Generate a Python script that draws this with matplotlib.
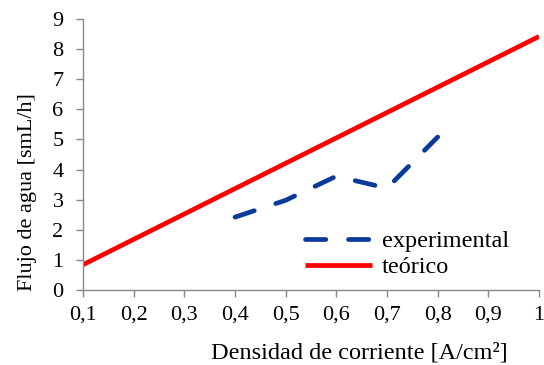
import matplotlib
matplotlib.use("Agg")
import matplotlib.pyplot as plt
from matplotlib.ticker import FuncFormatter

plt.rcParams['font.family'] = ['Liberation Serif', 'DejaVu Serif']

# corriente [A/cm2] y flujo de agua [smL/h]
x_exp = [0.4, 0.5, 0.6, 0.7, 0.8]
y_exp = [2.42, 2.98, 3.78, 3.38, 5.08]
x_teo = [0.1, 1.0]
y_teo = [0.84, 8.42]

fig = plt.figure(figsize=(5.44, 3.65), dpi=100)
ax = fig.add_axes([83/544, 1 - 290/365, 456/544, 271/365])

lw = 3.4
ax.plot(x_exp, y_exp, color='#0b3a9a', lw=lw, ls=(0, (4.3, 4.8)),
        dash_capstyle='round', solid_capstyle='round', label='experimental')
ax.plot(x_teo, y_teo, color='#ff0000', lw=lw, solid_capstyle='butt', label='teórico')

ax.set_xlim(0.1, 1.0)
ax.set_ylim(0, 9)
ax.set_xticks([0.1, 0.2, 0.3, 0.4, 0.5, 0.6, 0.7, 0.8, 0.9, 1.0])
ax.set_yticks(range(10))
ax.xaxis.set_major_formatter(FuncFormatter(lambda v, p: ('%g' % round(v, 1)).replace('.', ',')))

for s in ['top', 'right']:
    ax.spines[s].set_visible(False)
for s in ['left', 'bottom']:
    ax.spines[s].set_color('#888888')
    ax.spines[s].set_linewidth(1.0)
ax.tick_params(direction='out', length=5, width=1, color='#888888', labelsize=16)
ax.tick_params(axis='x', pad=6.5)
ax.tick_params(axis='y', pad=9)

ax.set_xlabel('Densidad de corriente [A/cm²]', fontsize=17.5, va='center')
ax.xaxis.set_label_coords(0.606, -0.232)
ax.set_ylabel('Flujo de agua [smL/h]', fontsize=16, va='center')
ax.yaxis.set_label_coords(-0.1225, 0.362)

ax.legend(loc='upper left', bbox_to_anchor=(0.487, 0.22), frameon=False, fontsize=17.5,
          borderpad=0, borderaxespad=0,
          handlelength=2.75, handletextpad=0.4, labelspacing=0.15)

fig.savefig('out.png', dpi=100)
